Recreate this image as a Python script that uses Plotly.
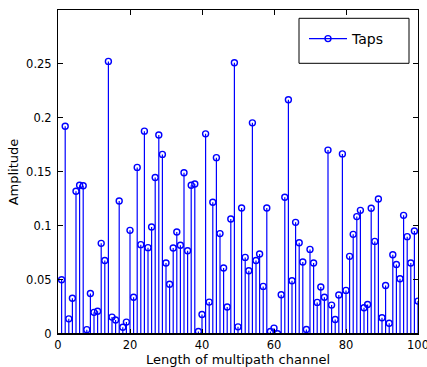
import plotly.graph_objects as go

taps = list(range(1, 101))
amplitude = [
    0.0502, 0.192, 0.014, 0.033, 0.132, 0.1375, 0.137, 0.004, 0.0375, 0.020,
    0.021, 0.0838, 0.068, 0.252, 0.0156, 0.013, 0.123, 0.0063, 0.011, 0.0958,
    0.034, 0.154, 0.0826, 0.1875, 0.0798, 0.0989, 0.1446, 0.184, 0.166, 0.0656,
    0.046, 0.0795, 0.0943, 0.082, 0.149, 0.077, 0.1375, 0.1387, 0.0023, 0.018,
    0.185, 0.0295, 0.1218, 0.163, 0.0928, 0.061, 0.025, 0.1063, 0.2508, 0.0066,
    0.1165, 0.0708, 0.0585, 0.1952, 0.068, 0.0739, 0.044, 0.1165, 0.0023, 0.0054,
    0.0003, 0.0363, 0.1264, 0.2165, 0.0492, 0.1032, 0.0844, 0.0665, 0.0042, 0.0782,
    0.0656, 0.0292, 0.0434, 0.034, 0.170, 0.0267, 0.0134, 0.036, 0.1665, 0.0403,
    0.0718, 0.0921, 0.1085, 0.1143, 0.0242, 0.0273, 0.1162, 0.0856, 0.1248, 0.015,
    0.0449, 0.010, 0.0733, 0.0643, 0.0511, 0.1097, 0.090, 0.0656, 0.0952, 0.0304,
]
x_ticks = [0, 20, 40, 60, 80, 100]
y_ticks = [0, 0.05, 0.1, 0.15, 0.2, 0.25]
y_tick_labels = ["0", "0.05", "0.1", "0.15", "0.2", "0.25"]

BLUE = "#0000ff"
FONT = "DejaVu Sans, Liberation Sans, Arial, sans-serif"

stem_x, stem_y = [], []
for xv, yv in zip(taps, amplitude):
    stem_x += [xv, xv, None]
    stem_y += [0, yv, None]

fig = go.Figure()
fig.add_trace(go.Scatter(x=stem_x, y=stem_y, mode="lines",
                         line=dict(color=BLUE, width=1.2), showlegend=False,
                         hoverinfo="skip"))
fig.add_trace(go.Scatter(x=taps, y=amplitude, mode="markers",
                         marker=dict(symbol="circle-open", size=6, color=BLUE,
                                     line=dict(width=1.4, color=BLUE)),
                         showlegend=False))
fig.add_trace(go.Scatter(x=[None], y=[None], mode="lines+markers", name="Taps",
                         line=dict(color=BLUE, width=1.2),
                         marker=dict(symbol="circle-open", size=6, color=BLUE,
                                     line=dict(width=1.4, color=BLUE))))

L, R, T, B = 58, 9, 10, 33
PW, PH = 427 - L - R, 367 - T - B

fig.update_layout(
    width=427, height=367,
    margin=dict(l=L, r=R, t=T, b=B, pad=0, autoexpand=False),
    paper_bgcolor="white", plot_bgcolor="white",
    font=dict(family=FONT, size=11.5, color="black"),
    showlegend=True,
    legend=dict(x=(304 - L) / PW, y=1 - (23 - T) / PH, xanchor="left", yanchor="top",
                bgcolor="rgba(0,0,0,0)", borderwidth=0,
                font=dict(size=14), itemwidth=38),
    xaxis=dict(range=[0, 100], tickvals=x_ticks, ticks="inside", ticklen=5,
               tickcolor="black", showline=True, linecolor="black", linewidth=1,
               mirror="ticks", showgrid=False, zeroline=False, automargin=False,
               ticklabeloverflow="allow", ticklabelstandoff=0,
               title=dict(text="Length of multipath channel", font=dict(size=13), standoff=3)),
    yaxis=dict(range=[0, 0.2995], tickvals=y_ticks, ticktext=y_tick_labels,
               ticks="inside", ticklen=5, tickcolor="black", showline=True,
               linecolor="black", linewidth=1, mirror="ticks", showgrid=False,
               zeroline=False, ticklabelstandoff=3, automargin=False,
               title=dict(text="Amplitude", font=dict(size=13), standoff=4)),
    shapes=[dict(type="rect", xref="paper", yref="paper",
                 x0=(299 - L) / PW, x1=(409 - L) / PW,
                 y0=1 - (63.3 - T) / PH, y1=1 - (18.3 - T) / PH,
                 line=dict(color="black", width=1), fillcolor="white", layer="below")],
)
fig.add_hline(y=0, line=dict(color="black", width=2))

fig.write_html("out.html")
